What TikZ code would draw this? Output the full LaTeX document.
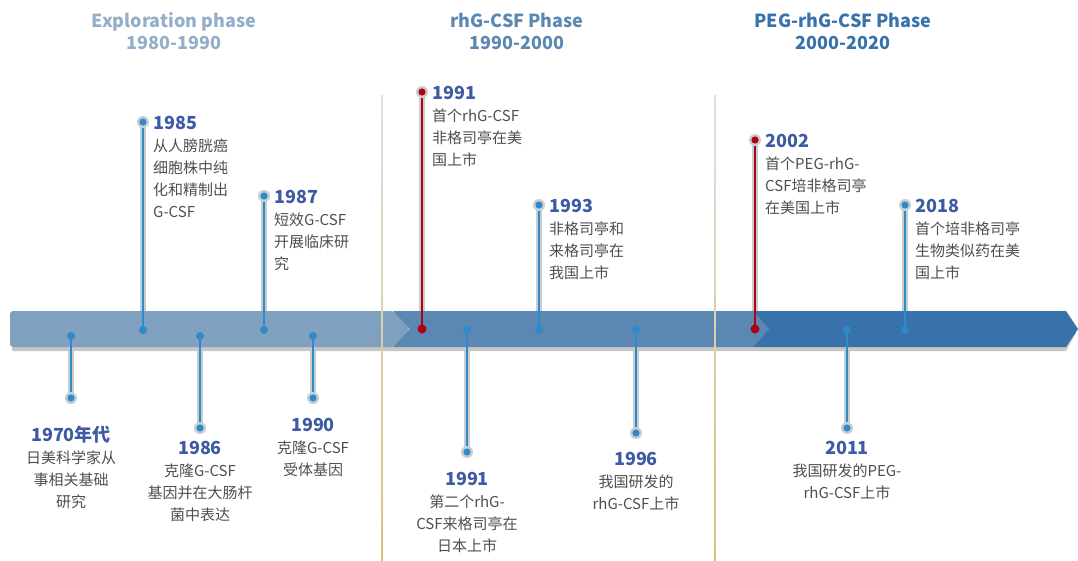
\documentclass[tikz,border=0pt]{standalone}
\usepackage{fontspec}
\setmainfont{Noto Sans CJK SC}
\usepackage{xcolor}
\usetikzlibrary{calc,positioning}
\definecolor{barlight}{HTML}{7FA0BE}
\definecolor{barmid}{HTML}{5A88B3}
\definecolor{bardark}{HTML}{3872AB}
\definecolor{stemgray}{HTML}{C8CDD2}
\definecolor{dotblue}{HTML}{2E8BC9}
\definecolor{dotred}{HTML}{B00012}
\definecolor{yearblue}{HTML}{3D5AA3}
\definecolor{textgray}{HTML}{4E4E4E}
\definecolor{sepgold}{HTML}{D8C27A}
\newcommand{\yearlabel}[1]{{\color{yearblue}\fontsize{18}{22}\selectfont\bfseries #1}}

\begin{document}
\begin{tikzpicture}[x=1pt,y=-1pt,
  halo/.style={line width=6.5pt,stemgray},
  bluestem/.style={line width=1.6pt,dotblue},
  redstem/.style={line width=1.6pt,dotred},
  upnote/.style={anchor=north west,inner sep=0pt,align=left,text=textgray,font=\fontsize{15}{22}\selectfont},
  downnote/.style={anchor=north,inner sep=0pt,align=center,text=textgray,font=\fontsize{15}{22}\selectfont},
  phase/.style={align=center,inner sep=0pt,font=\fontsize{18}{22}\selectfont\bfseries}]
  \useasboundingbox (0,0) rectangle (1078,560);

  \node[phase,text=barlight!85] (p1) at (174,31) {Exploration phase\\1980-1990};
  \node[phase,text=barmid] (p2) at (517,31) {rhG-CSF Phase\\1990-2000};
  \node[phase,text=bardark] (p3) at (843,31) {PEG-rhG-CSF Phase\\2000-2020};

  \foreach \n/\x/\yb/\ye in {70/71/336/398, 85/143/330/122, 86/200/336/428, 87/264/330/196,
    90/313/336/398, 91a/422/329/92, 91b/467/330/452, 93/539/330/205, 96/636/330/433,
    02/755/329/140, 11/847/330/428, 18/905/330/205}
  {
    \coordinate (b\n) at (\x,\yb);
    \coordinate (e\n) at (\x,\ye);
  }

  \foreach \n in {70,85,86,87,90,91a,91b,93,96,02,11,18}
  \draw[halo] (b\n) -- (e\n);

  % timeline bar
  \fill[gray!45] (12,315) -- (1066,315) -- (1076,333) -- (1066,351) -- (12,351) -- cycle;
  \fill[barlight, rounded corners=3pt] (10,311) -- (393,311) -- (410,329) -- (393,347) -- (10,347) -- cycle;
  \fill[barmid] (393,311) -- (753,311) -- (769,329) -- (753,347) -- (393,347) -- (410,329) -- cycle;
  \fill[bardark] (753,311) -- (1066,311) -- (1078,329) -- (1066,347) -- (753,347) -- (769,329) -- cycle;

  \foreach \x in {382,715}
  \shade[top color=gray!25, middle color=sepgold, bottom color=sepgold] (\x-0.8,95) rectangle (\x+0.8,560);

  \foreach \n in {70,85,86,87,90,91b,93,96,11,18}
  {
    \draw[bluestem] (b\n) -- (e\n);
    \fill[stemgray] (e\n) circle (6pt);
    \fill[dotblue] (e\n) circle (3.6pt);
    \fill[dotblue] (b\n) circle (4pt);
  }
  \foreach \n in {91a,02}
  {
    \draw[redstem] (b\n) -- (e\n);
    \fill[stemgray] (e\n) circle (6pt);
    \fill[dotred] (e\n) circle (3.6pt);
    \fill[dotred] (b\n) circle (4.5pt);
  }

  \node[upnote] (t85) at ($(e85)+(10,-6)$) {\yearlabel{1985}\\从人膀胱癌\\细胞株中纯\\化和精制出\\G-CSF};
  \node[upnote] (t87) at ($(e87)+(10,-6)$) {\yearlabel{1987}\\短效G-CSF\\开展临床研\\究};
  \node[upnote] (t91a) at ($(e91a)+(10,-6)$) {\yearlabel{1991}\\首个rhG-CSF\\非格司亭在美\\国上市};
  \node[upnote] (t93) at ($(e93)+(10,-6)$) {\yearlabel{1993}\\非格司亭和\\来格司亭在\\我国上市};
  \node[upnote] (t02) at ($(e02)+(10,-6)$) {\yearlabel{2002}\\首个PEG-rhG-\\CSF培非格司亭\\在美国上市};
  \node[upnote] (t18) at ($(e18)+(10,-6)$) {\yearlabel{2018}\\首个培非格司亭\\生物类似药在美\\国上市};

  \node[downnote] (t70) at (71,426) {\yearlabel{1970年代}\\日美科学家从\\事相关基础\\研究};
  \node[downnote] (t86) at (200,441) {\yearlabel{1986}\\克隆G-CSF\\基因并在大肠杆\\菌中表达};
  \node[downnote] (t90) at (313,418) {\yearlabel{1990}\\克隆G-CSF\\受体基因};
  \node[downnote] (t91b) at (467,472) {\yearlabel{1991}\\第二个rhG-\\CSF来格司亭在\\日本上市};
  \node[downnote] (t96) at (636,452) {\yearlabel{1996}\\我国研发的\\rhG-CSF上市};
  \node[downnote] (t11) at (847,441) {\yearlabel{2011}\\我国研发的PEG-\\rhG-CSF上市};
\end{tikzpicture}
\end{document}
